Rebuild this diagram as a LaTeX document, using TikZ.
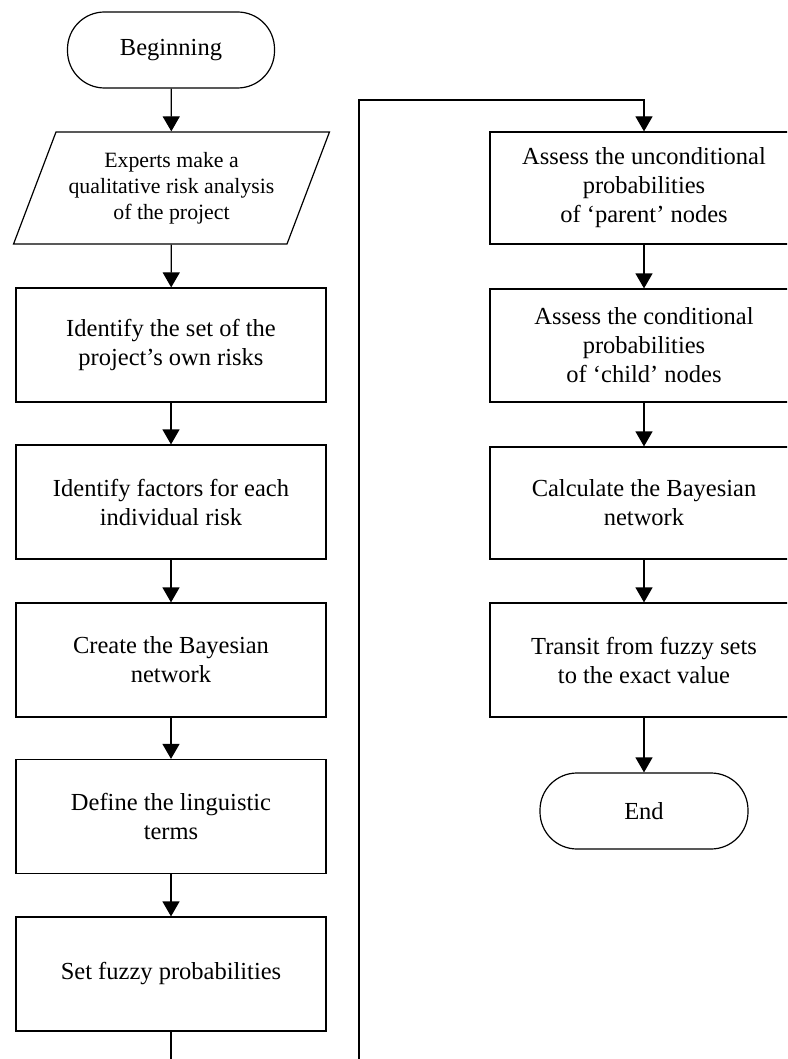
\documentclass[tikz,border=0pt]{standalone}
\usepackage{fontspec}
\setmainfont{Liberation Serif}
\usetikzlibrary{arrows.meta,shapes.geometric}
\begin{document}
\begin{tikzpicture}[x=1pt,y=-1pt,
  every node/.style={font=\fontsize{24.5}{29}\selectfont, align=center, inner sep=0pt},
  lbox/.style={draw, line width=1.2pt, minimum width=310pt, minimum height=114pt},
  rbox/.style={draw, line width=1.2pt, minimum width=308pt, minimum height=113pt},
  term/.style={draw, line width=1.2pt, rounded corners=37pt, minimum width=207pt, minimum height=76pt},
  para/.style={draw, line width=1.2pt, trapezium, trapezium left angle=62.2, trapezium right angle=117.8,
     trapezium stretches=true, minimum width=317pt, minimum height=112pt,
     font=\fontsize{21.8}{26}\selectfont},
  arr/.style={line width=1.2pt, -{Triangle[length=15pt,width=17pt]}}
]
\useasboundingbox (0,0) rectangle (787,1059);
\clip (0,0) rectangle (787,1059);
% left column
\node[term] (beg) at (171,50) {Beginning};
\node[para] (exp) at (171.5,188) {Experts make a\\qualitative risk analysis\\of the project};
\node[lbox] (b1) at (171,345) {Identify the set of the\\project’s own risks};
\node[lbox] (b2) at (171,502) {Identify factors for each\\individual risk};
\node[lbox] (b3) at (171,660) {Create the Bayesian\\network};
\node[lbox] (b4) at (171,816.5) {Define the linguistic\\terms};
\node[lbox] (b5) at (171,974) {Set fuzzy probabilities};
% right column
\node[rbox, minimum height=112pt] (r1) at (644,188) {Assess the unconditional\\probabilities\\of ‘parent’ nodes};
\node[rbox] (r2) at (644,345.5) {Assess the conditional\\probabilities\\of ‘child’ nodes};
\node[rbox, minimum height=112pt] (r3) at (644,503) {Calculate the Bayesian\\network};
\node[rbox, minimum height=114pt] (r4) at (644,660) {Transit from fuzzy sets\\to the exact value};
\node[term, minimum width=208pt] (end) at (644,811) {End};
% loop coordinates
\coordinate (loopB) at (359,1100);
\coordinate (loopT) at (359,100);
% connectors
\draw[arr] (beg) -- (exp);
\draw[arr] (exp) -- (b1);
\draw[arr] (b1) -- (b2);
\draw[arr] (b2) -- (b3);
\draw[arr] (b3) -- (b4);
\draw[arr] (b4) -- (b5);
\draw[arr] (b5.south) |- (loopB) -- (loopT) -| (r1.north);
\draw[arr] (r1) -- (r2);
\draw[arr] (r2) -- (r3);
\draw[arr] (r3) -- (r4);
\draw[arr] (r4) -- (end);
\end{tikzpicture}
\end{document}
